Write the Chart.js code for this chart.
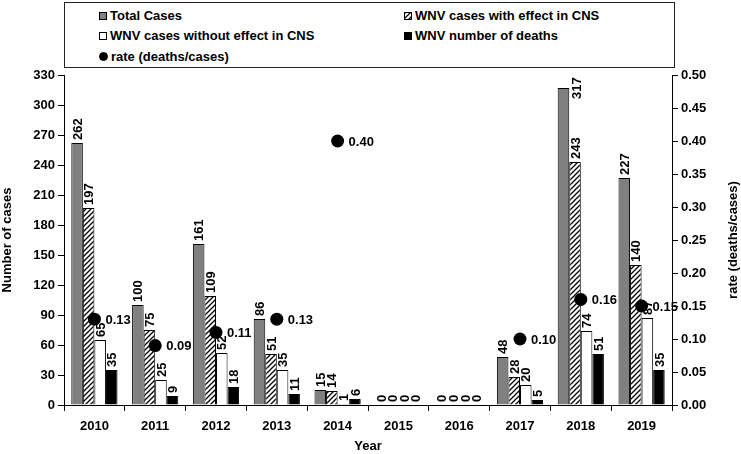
<!DOCTYPE html>
<html lang="en">
<head>
<meta charset="utf-8" />
<title>WNV cases 2010-2019</title>
<script src="https://cdn.jsdelivr.net/npm/chart.js@4.4.0/dist/chart.umd.min.js"></script>
<style>
  body { margin: 0; background: #fff; }
  #wrap { position: relative; width: 741px; height: 454px; }
  #legend {
    position: absolute; left: 64px; top: 2px; width: 609px; height: 64px;
    border: 1.5px solid #222; background: #fff;
    font: bold 13px "Liberation Sans", Arial, sans-serif; color: #000;
  }
  .item { position: absolute; display: flex; align-items: center; white-space: nowrap; }
  .sw { width: 8px; height: 8px; border: 1px solid #000; margin-right: 3px; box-sizing: border-box; }
</style>
</head>
<body>
<div id="wrap">
  <canvas id="chart" width="741" height="454"></canvas>
  <div id="legend">
    <div class="item" style="left:34px;top:5px"><span class="sw" style="background:#808080"></span>Total Cases</div>
    <div class="item" style="left:339px;top:5px"><span class="sw" id="hatchSw"></span>WNV cases with effect in CNS</div>
    <div class="item" style="left:34px;top:25px"><span class="sw" style="background:#fff"></span>WNV cases without effect in CNS</div>
    <div class="item" style="left:339px;top:25px"><span class="sw" style="background:#000"></span>WNV number of deaths</div>
    <div class="item" style="left:34px;top:46px"><span class="sw" style="background:#000;border-radius:50%;width:9px;height:9px"></span>rate (deaths/cases)</div>
  </div>
</div>
<script>
const years = ['2010', '2011', '2012', '2013', '2014', '2015', '2016', '2017', '2018', '2019'];
const totalCases = [262, 100, 161, 86, 15, 0, 0, 48, 317, 227];
const cnsCases = [197, 75, 109, 51, 14, 0, 0, 28, 243, 140];
const nonCnsCases = [65, 25, 52, 35, 1, 0, 0, 20, 74, 87];
const deaths = [35, 9, 18, 11, 6, 0, 0, 5, 51, 35];
const rates = [0.13, 0.09, 0.11, 0.13, 0.40, null, null, 0.10, 0.16, 0.15];

const FONT = '"Liberation Sans", Arial, sans-serif';

// diagonal hatch for the CNS bars
function makeHatch() {
  const c = document.createElement('canvas');
  c.width = 5; c.height = 5;
  const g = c.getContext('2d');
  g.fillStyle = '#fff';
  g.fillRect(0, 0, 5, 5);
  g.strokeStyle = '#000';
  g.lineWidth = 1.3;
  g.beginPath();
  g.moveTo(-1, 6); g.lineTo(6, -1);
  g.moveTo(-1, 1); g.lineTo(1, -1);
  g.moveTo(4, 6); g.lineTo(6, 4);
  g.stroke();
  return c;
}
const hatchCanvas = makeHatch();
const ctx = document.getElementById('chart').getContext('2d');
const hatch = ctx.createPattern(hatchCanvas, 'repeat');
document.getElementById('hatchSw').style.background = 'url(' + hatchCanvas.toDataURL() + ')';

// rotated value labels above the bars, drawn just before the rate dots
const barLabels = {
  id: 'barLabels',
  beforeDatasetDraw(chart, args) {
    if (args.meta.type !== 'line') return;
    const c = chart.ctx;
    const area = chart.chartArea;
    c.save();
    c.font = 'bold 13px ' + FONT;
    c.fillStyle = '#000';
    c.textBaseline = 'middle';
    c.textAlign = 'left';
    chart.data.datasets.forEach((ds, i) => {
      if (ds.type === 'line') return;
      const meta = chart.getDatasetMeta(i);
      meta.data.forEach((bar, j) => {
        const txt = String(ds.data[j]);
        const w = c.measureText(txt).width;
        let x = bar.x, y = bar.y - 3;
        if (y - w < area.top) {
          x = bar.x + bar.width * 1.1;
          y = bar.y + 11;
        }
        c.save();
        c.translate(x, y);
        c.rotate(-Math.PI / 2);
        c.fillText(txt, 0, 1);
        c.restore();
      });
    });
    c.restore();
  },
  afterDatasetsDraw(chart) {
    const c = chart.ctx;
    const idx = chart.data.datasets.findIndex(d => d.type === 'line');
    const meta = chart.getDatasetMeta(idx);
    c.save();
    c.font = 'bold 13px ' + FONT;
    c.fillStyle = '#000';
    c.textBaseline = 'middle';
    c.textAlign = 'left';
    meta.data.forEach((pt, j) => {
      if (rates[j] == null) return;
      c.fillText(rates[j].toFixed(2), pt.x + 11, pt.y + 1);
    });
    // right axis title reads bottom-to-top like the left one
    const area = chart.chartArea;
    c.textAlign = 'center';
    c.translate(733, (area.top + area.bottom) / 2);
    c.rotate(-Math.PI / 2);
    c.fillText('rate (deaths/cases)', 0, 0);
    c.restore();
  }
};

const tickFont = { family: FONT, size: 13, weight: 'bold' };

new Chart(ctx, {
  type: 'bar',
  data: {
    labels: years,
    datasets: [
      { type: 'line', label: 'rate (deaths/cases)', data: rates, yAxisID: 'y1', order: 0,
        showLine: false, pointRadius: 6.5, pointHoverRadius: 6.5,
        pointBackgroundColor: '#000', pointBorderColor: '#000', pointBorderWidth: 0 },
      { label: 'Total Cases', data: totalCases, backgroundColor: '#808080', order: 1 },
      { label: 'WNV cases with effect in CNS', data: cnsCases, backgroundColor: hatch, order: 1 },
      { label: 'WNV cases without effect in CNS', data: nonCnsCases, backgroundColor: '#fff', order: 1 },
      { label: 'WNV number of deaths', data: deaths, backgroundColor: '#000', order: 1 }
    ]
  },
  options: {
    responsive: false,
    animation: false,
    layout: { padding: { top: 75, left: 0, right: 0, bottom: 0 } },
    datasets: {
      bar: { borderColor: '#000', borderWidth: 1, categoryPercentage: 0.76, barPercentage: 1, yAxisID: 'y' }
    },
    plugins: {
      legend: { display: false },
      tooltip: { enabled: false }
    },
    scales: {
      x: {
        offset: true,
        grid: { display: true, offset: true, drawOnChartArea: false, tickLength: 6, color: '#000' },
        border: { color: '#000', width: 1 },
        ticks: { color: '#000', font: tickFont, padding: 8 },
        title: { display: true, text: 'Year', color: '#000', font: tickFont, padding: { top: 0, bottom: 0 } },
        afterFit(s) { s.height = 49; }
      },
      y: {
        position: 'left',
        min: 0, max: 330,
        ticks: { stepSize: 30, color: '#000', font: tickFont, padding: 3 },
        grid: { drawOnChartArea: false, tickLength: 6, color: '#000' },
        border: { color: '#000', width: 1 },
        title: { display: true, text: 'Number of cases', color: '#000', font: tickFont, padding: 0 },
        afterFit(s) { s.width = 64; }
      },
      y1: {
        position: 'right',
        min: 0, max: 0.5,
        ticks: { stepSize: 0.05, color: '#000', font: tickFont, padding: 3,
          callback: v => v.toFixed(2) },
        grid: { drawOnChartArea: false, tickLength: 6, color: '#000' },
        border: { color: '#000', width: 1 },
        afterFit(s) { s.width = 69; }
      }
    }
  },
  plugins: [barLabels]
});
</script>
</body>
</html>
